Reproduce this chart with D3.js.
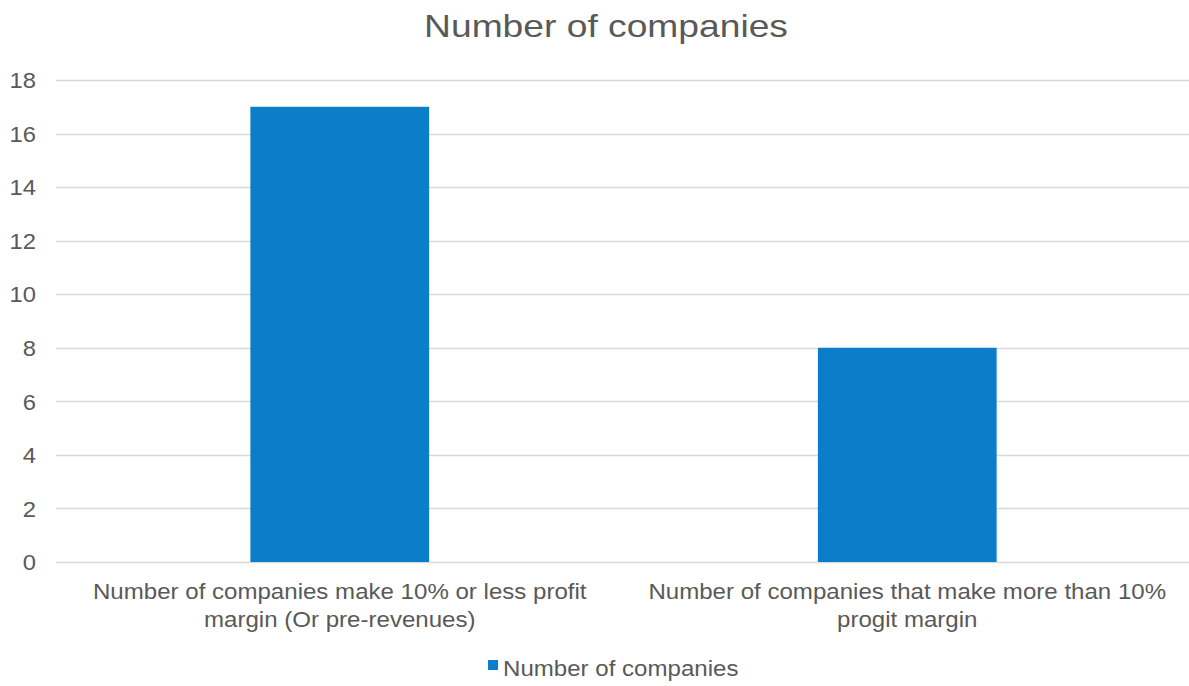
<!DOCTYPE html>
<html>
<head>
<meta charset="utf-8">
<script src="https://cdn.jsdelivr.net/npm/d3@7"></script>
<style>
  html, body { margin: 0; padding: 0; background: #fff; }
  svg { display: block; font-family: "Liberation Sans", Arial, sans-serif; }
</style>
</head>
<body>
<svg id="chart" width="1189" height="686"></svg>
<script>
// Chart data
const categories = [
  ["Number of companies make 10% or less profit", "margin (Or pre-revenues)"],
  ["Number of companies that make more than 10%", "progit margin"]
];
const values = [17, 8];
const yTicks = [0, 2, 4, 6, 8, 10, 12, 14, 16, 18];
const seriesName = "Number of companies";
const chartTitle = "Number of companies";

const W = 1189, H = 686;
const margin = { left: 56, right: -2, top: 80, bottom: 124 };
const barColor = "#0A7EC8";
const textColor = "#595959";
const stretch = 1.12;   // horizontal widening of the label type

const svg = d3.select("#chart");

const x = d3.scaleBand()
  .domain(d3.range(categories.length))
  .range([margin.left, W - margin.right])
  .padding(0);

const y = d3.scaleLinear()
  .domain([0, 18])
  .range([H - margin.bottom, margin.top]);

// Title
svg.append("text")
  .attr("transform", "translate(606,37) scale(1.2,1)")
  .attr("text-anchor", "middle")
  .attr("font-size", 31)
  .attr("fill", textColor)
  .text(chartTitle);

// Gridlines
svg.append("g")
  .selectAll("line")
  .data(yTicks)
  .join("line")
  .attr("x1", margin.left)
  .attr("x2", W)
  .attr("y1", d => Math.round(y(d)) + 0.5)
  .attr("y2", d => Math.round(y(d)) + 0.5)
  .attr("stroke", "#d9d9d9")
  .attr("stroke-width", 1.5);

// Y axis labels
const yAxis = d3.axisLeft(y).tickValues(yTicks).tickSize(0).tickPadding(0);
const yG = svg.append("g")
  .attr("transform", "translate(36,0)")
  .call(yAxis);
yG.select(".domain").remove();
yG.selectAll("text")
  .attr("x", null)
  .attr("dy", null)
  .attr("dominant-baseline", "central")
  .attr("transform", `scale(1.08,1)`)
  .attr("font-size", 22)
  .attr("fill", textColor)
  .attr("font-family", "Liberation Sans, Arial, sans-serif");

// Bars
const barW = x.bandwidth() * 0.315;
svg.append("g")
  .selectAll("rect")
  .data(values)
  .join("rect")
  .attr("x", (d, i) => x(i) + x.bandwidth() / 2 - barW / 2)
  .attr("width", barW)
  .attr("y", d => y(d))
  .attr("height", d => y(0) - y(d))
  .attr("fill", barColor);

// Category labels
const catG = svg.append("g");
categories.forEach((lines, i) => {
  lines.forEach((ln, j) => {
    catG.append("text")
      .attr("transform", `translate(${x(i) + x.bandwidth() / 2},${599 + j * 28}) scale(${stretch},1)`)
      .attr("text-anchor", "middle")
      .attr("font-size", 21.5)
      .attr("fill", textColor)
      .text(ln);
  });
});

// Legend
const lg = svg.append("g").attr("transform", "translate(488,660)");
lg.append("rect").attr("width", 10).attr("height", 10).attr("fill", barColor);
lg.append("text")
  .attr("transform", `translate(15,16) scale(${stretch},1)`)
  .attr("font-size", 21.5)
  .attr("fill", textColor)
  .text(seriesName);
</script>
</body>
</html>
